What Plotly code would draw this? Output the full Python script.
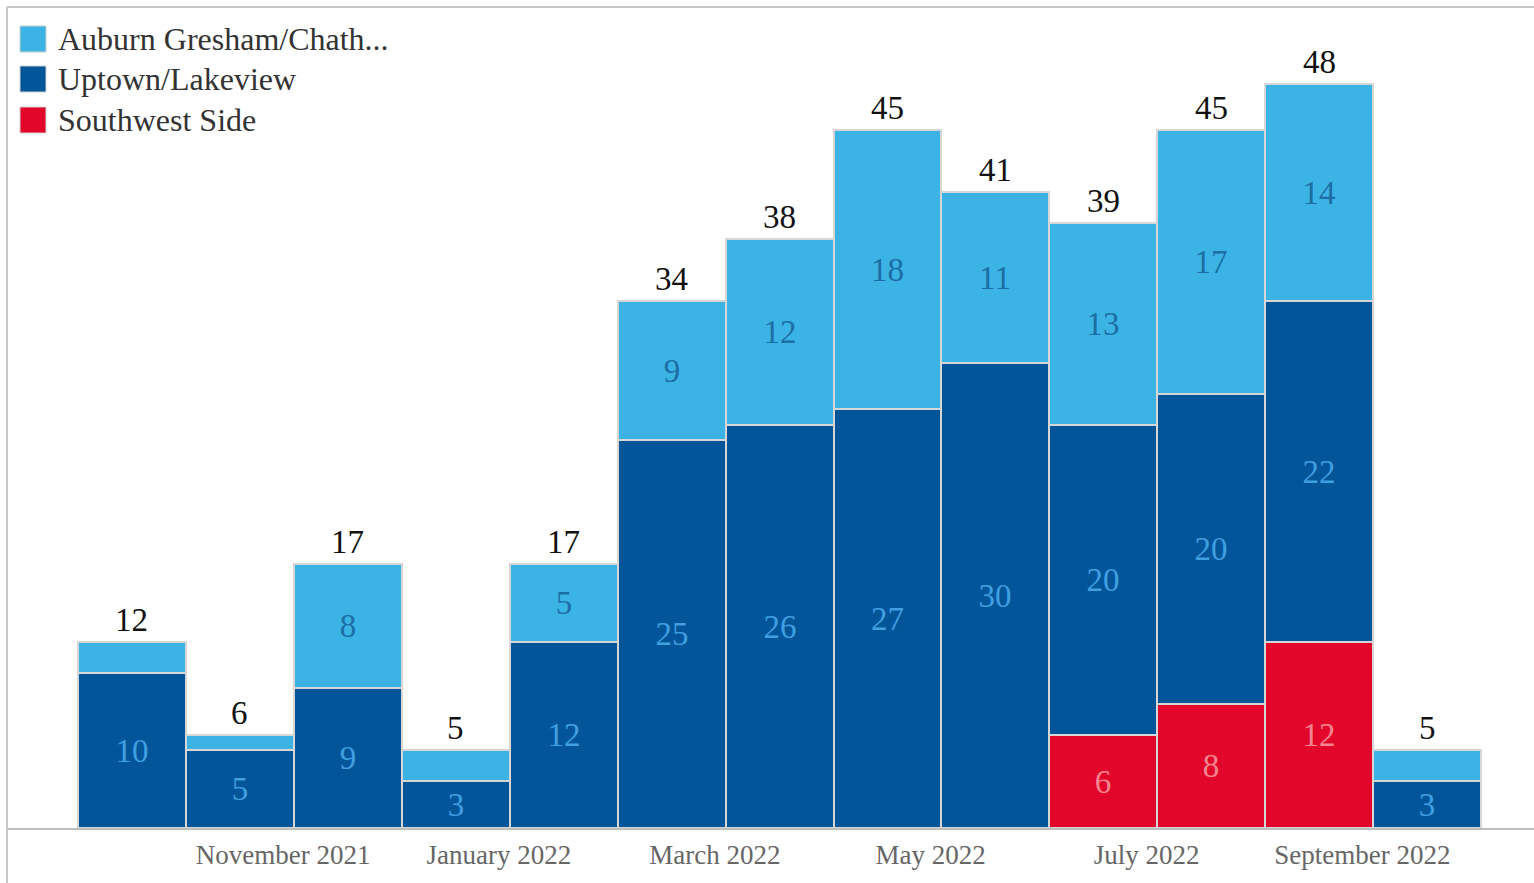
import plotly.graph_objects as go

# ---------------- data ----------------
months = ["October 2021", "November 2021", "December 2021", "January 2022",
          "February 2022", "March 2022", "April 2022", "May 2022", "June 2022",
          "July 2022", "August 2022", "September 2022", "October 2022"]
southwest = [None, None, None, None, None, None, None, None, None, 6, 8, 12, None]
uptown = [10, 5, 9, 3, 12, 25, 26, 27, 30, 20, 20, 22, 3]
auburn = [2, 1, 8, 2, 5, 9, 12, 18, 11, 13, 17, 14, 2]
tick_labels = ["November 2021", "January 2022", "March 2022",
               "May 2022", "July 2022", "September 2022"]

series_names = ["Auburn Gresham/Chath...", "Uptown/Lakeview", "Southwest Side"]
series_colors = ["#3bb4e5", "#03559a", "#e1062a"]
label_colors = ["#1c6ea5", "#3f9fe0", "#f4848f"]

# ---------------- layout constants ----------------
W, H = 1534, 883
ML, MR, MT, MB = 7, 0, 7, 55
PW, PH = W - ML - MR, H - MT - MB
FONT = "Liberation Serif, Times New Roman, serif"

x_pos = list(range(len(months)))
totals = [sum(v or 0 for v in col) for col in zip(southwest, uptown, auburn)]


def lbl(vals):
    return [str(v) if (v is not None and v >= 3) else "" for v in vals]


fig = go.Figure()
stack = [(series_names[2], southwest, series_colors[2], label_colors[2]),
         (series_names[1], uptown, series_colors[1], label_colors[1]),
         (series_names[0], auburn, series_colors[0], label_colors[0])]
for name, vals, col, tcol in stack:
    fig.add_trace(go.Bar(
        x=x_pos, y=vals, name=name, width=1.0,
        marker=dict(color=col, line=dict(color="#d6d6d6", width=2)),
        text=lbl(vals), textposition="inside", insidetextanchor="middle",
        textangle=0, constraintext="none",
        insidetextfont=dict(family=FONT, size=33, color=tcol),
        hoverinfo="x+y+name", showlegend=False,
    ))

# totals above the bars
for xi, t in zip(x_pos, totals):
    fig.add_annotation(x=xi, y=t, text=str(t), showarrow=False, yanchor="bottom",
                       yshift=2, font=dict(family=FONT, size=33, color="#111111"))


def px_x(px):
    return (px - ML) / PW


def px_y(py):
    return (H - MB - py) / PH


# custom legend (large squares)
leg_centers = [39, 79, 120]
shapes = []
for name, col, cy in zip(series_names, series_colors, leg_centers):
    shapes.append(dict(type="rect", xref="paper", yref="paper",
                       x0=px_x(20), x1=px_x(46), y0=px_y(cy + 13), y1=px_y(cy - 13),
                       fillcolor=col, line=dict(color="#d0d0d0", width=1)))
    fig.add_annotation(xref="paper", yref="paper", x=px_x(56), y=px_y(cy),
                       xanchor="left", yanchor="middle", showarrow=False, text=name,
                       font=dict(family=FONT, size=32, color="#333333"))

# frame lines
shapes.append(dict(type="line", xref="paper", yref="paper", x0=0, x1=0,
                   y0=px_y(H + 5), y1=1, line=dict(color="#c8c8c8", width=2)))
shapes.append(dict(type="line", xref="paper", yref="paper", x0=0, x1=1.01,
                   y0=1, y1=1, line=dict(color="#c8c8c8", width=2)))

tick_vals = [months.index(t) + 0.4 for t in tick_labels]

fig.update_layout(
    width=W, height=H, autosize=False,
    margin=dict(l=ML, r=MR, t=MT, b=MB),
    barmode="stack", bargap=0,
    plot_bgcolor="white", paper_bgcolor="white",
    showlegend=False,
    shapes=shapes,
    font=dict(family=FONT),
    xaxis=dict(range=[-1.158, 12.99], tickvals=tick_vals, ticktext=tick_labels,
               showgrid=False, zeroline=False, showline=True,
               linecolor="#bdbdbd", linewidth=2, ticks="", ticklabelstandoff=2,
               tickfont=dict(family=FONT, size=27, color="#666666")),
    yaxis=dict(range=[0, 52.95], showgrid=False, zeroline=False,
               showticklabels=False, showline=False),
    uniformtext=dict(minsize=8),
)

fig.write_html("out.html", config={"displayModeBar": False},
               post_script="document.body.style.margin='0';document.body.style.overflow='hidden';")
